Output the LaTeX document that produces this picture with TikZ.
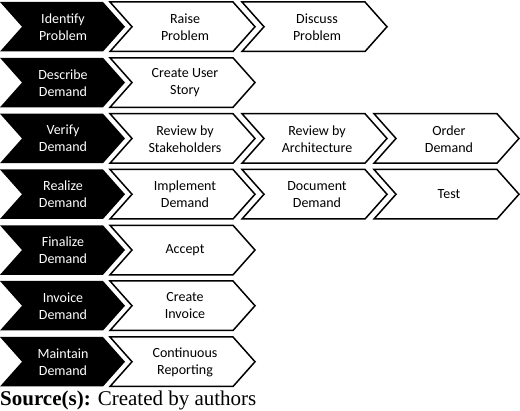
\documentclass[tikz,border=0pt]{standalone}
\usepackage{fontspec}
\setmainfont{Carlito}
\newfontfamily\srcfont{Liberation Serif}
\tikzset{
  blackchev/.style={fill=black, draw=none},
  whitechev/.style={fill=white, draw=black, line width=1.5pt, line join=miter},
  chevtext/.style={align=center, inner sep=0pt, font=\fontsize{14}{17}\selectfont},
  btext/.style={chevtext, text=white},
  wtext/.style={chevtext, text=black},
}
\newcommand{\chevB}[3]{%
  \fill[blackchev] (0,#1) -- ++(103,0) -- ++(22,24.75) -- ++(-22,24.75) -- (0,#1+49.5) -- ++(22,-24.75) -- cycle;
  \node[btext] (#2) at (63,#1+25) {#3};}
\newcommand{\chevW}[4]{%
  \draw[whitechev] (#1,#2) -- ++(123,0) -- ++(22,24.75) -- ++(-22,24.75) -- ++(-123,0) -- ++(22,-24.75) -- cycle;
  \node[wtext] (#3) at (#1+75,#2+25) {#4};}
\begin{document}
\begin{tikzpicture}[x=1pt, y=-1pt]
\useasboundingbox (0,0) rectangle (520,411);
% row 1
\chevB{2}{idp}{Identify\\Problem}
\chevW{110}{2}{rp}{Raise\\Problem}
\chevW{242}{2}{dp}{Discuss\\Problem}
% row 2
\chevB{57.8}{dd}{Describe\\Demand}
\chevW{110}{57.8}{cus}{Create User\\Story}
% row 3
\chevB{113.7}{vd}{Verify\\Demand}
\chevW{110}{113.7}{rbs}{Review by\\Stakeholders}
\chevW{242}{113.7}{rba}{Review by\\Architecture}
\chevW{374}{113.7}{od}{Order\\Demand}
% row 4
\chevB{169.5}{rd}{Realize\\Demand}
\chevW{110}{169.5}{imd}{Implement\\Demand}
\chevW{242}{169.5}{docd}{Document\\Demand}
\chevW{374}{169.5}{tst}{Test}
% row 5
\chevB{225.3}{fd}{Finalize\\Demand}
\chevW{110}{225.3}{acc}{Accept}
% row 6
\chevB{281}{ind}{Invoice\\Demand}
\chevW{110}{281}{ci}{Create\\Invoice}
% row 7
\chevB{337}{md}{Maintain\\Demand}
\chevW{110}{337}{cr}{Continuous\\Reporting}
% source
\node[anchor=base west, inner sep=0pt, font=\srcfont\fontsize{21}{24}\selectfont] (src) at (0,406) {\textbf{Source(s):} Created by authors};
\end{tikzpicture}
\end{document}
